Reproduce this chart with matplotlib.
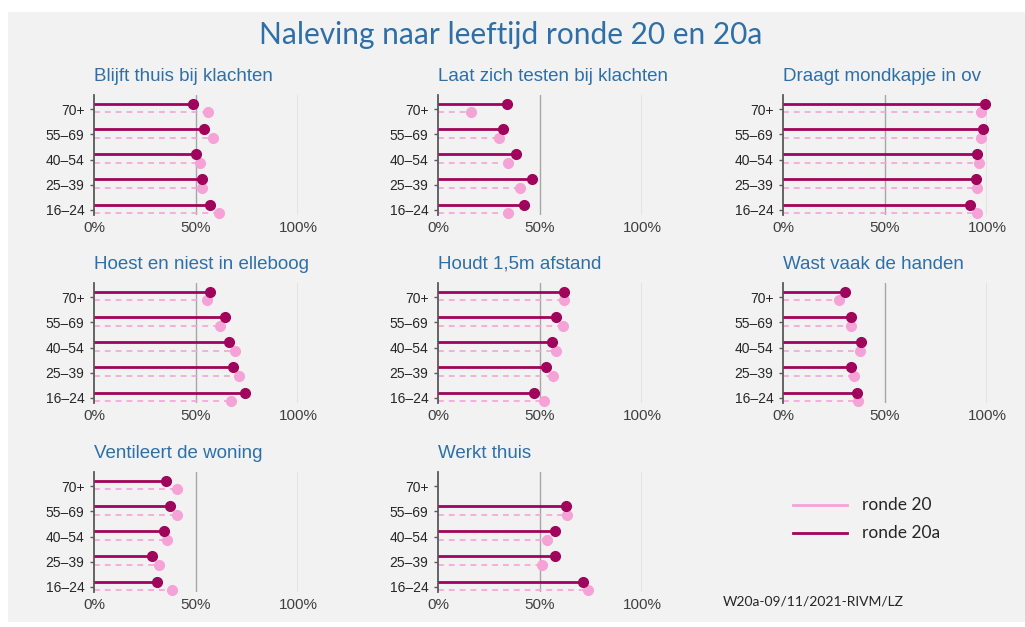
import matplotlib
matplotlib.use("Agg")
import matplotlib.pyplot as plt
from matplotlib.patches import Rectangle
import numpy as np

W, H = 1025, 627
DPI = 100

age_groups = ["70+", "55–69", "40–54", "25–39", "16–24"]
titles = ["Blijft thuis bij klachten", "Laat zich testen bij klachten", "Draagt mondkapje in ov",
          "Hoest en niest in elleboog", "Houdt 1,5m afstand", "Wast vaak de handen",
          "Ventileert de woning", "Werkt thuis"]

# ronde 20 (light) and ronde 20a (dark), percent, in order of age_groups
r20_thuis = [55.8, 58.1, 52.0, 53.0, 61.5]
r20a_thuis = [48.4, 53.7, 49.8, 53.0, 56.8]
r20_testen = [16.4, 29.7, 34.1, 40.2, 34.1]
r20a_testen = [33.6, 31.8, 38.2, 46.0, 42.3]
r20_mondkapje = [97.0, 97.0, 95.9, 94.9, 95.0]
r20a_mondkapje = [99.0, 98.0, 95.2, 94.4, 91.9]
r20_elleboog = [55.5, 61.9, 68.9, 71.2, 67.4]
r20a_elleboog = [56.8, 64.2, 66.1, 68.1, 74.0]
r20_afstand = [61.8, 61.1, 57.9, 56.4, 51.8]
r20a_afstand = [61.8, 58.0, 55.7, 53.1, 46.9]
r20_handen = [27.3, 33.2, 37.8, 35.0, 36.8]
r20a_handen = [30.4, 33.2, 38.0, 33.2, 36.5]
r20_ventileert = [40.6, 40.6, 35.7, 31.9, 38.1]
r20a_ventileert = [35.2, 37.3, 34.4, 28.2, 30.8]
r20_werkt = [np.nan, 63.3, 53.3, 51.1, 73.4]
r20a_werkt = [np.nan, 62.6, 57.2, 57.2, 71.1]

light_series = [r20_thuis, r20_testen, r20_mondkapje, r20_elleboog, r20_afstand,
                r20_handen, r20_ventileert, r20_werkt]
dark_series = [r20a_thuis, r20a_testen, r20a_mondkapje, r20a_elleboog, r20a_afstand,
               r20a_handen, r20a_ventileert, r20a_werkt]

xticks = [0, 50, 100]
xticklabels = ["0%", "50%", "100%"]
legend_labels = ["ronde 20", "ronde 20a"]

DARK = "#a0035c"
LIGHT = "#f5a3d6"
BLUE = "#2e6fa8"
BG = "#f2f2f2"

fig = plt.figure(figsize=(W / DPI, H / DPI), dpi=DPI)
fig.patch.set_facecolor("white")
fig.patches.append(Rectangle((8 / W, 5 / H), 1 - 8 / W, 1 - 12 / H - 5 / H,
                             transform=fig.transFigure, facecolor=BG, edgecolor="none", zorder=-10))

fig.text(511 / W, 1 - 35 / H, "Naleving naar leeftijd ronde 20 en 20a", ha="center", va="center",
         fontsize=21.5, color=BLUE, family="Lato")

col_x = [94, 438, 783]
row_top = [95, 283, 472]
ax_w = 204
ax_h = 120

y = np.arange(len(age_groups))
for i, title in enumerate(titles):
    r, c = divmod(i, 3)
    left = col_x[c]
    top = row_top[r]
    ax = fig.add_axes([left / W, 1 - (top + ax_h) / H, ax_w / W, ax_h / H])
    ax.set_facecolor("none")
    ax.set_xlim(0, 100)
    ax.set_ylim(4.2, -0.56)
    for s in ["top", "right", "bottom"]:
        ax.spines[s].set_visible(False)
    ax.spines["left"].set_color("#595959")
    ax.spines["left"].set_linewidth(1.3)
    for gx in [50, 100]:
        ax.axvline(gx, color="#a6a6a6", lw=1.0, zorder=0)
    light = np.array(light_series[i], dtype=float)
    dark = np.array(dark_series[i], dtype=float)
    yd = y - 0.21
    yl = y + 0.13
    ax.hlines(yl, 0, light, color=LIGHT, lw=1.2, linestyles=(0, (3.5, 3)), zorder=2)
    ax.plot(light, yl, "o", color=LIGHT, ms=7, zorder=3, clip_on=False)
    ax.hlines(yd, 0, dark, color=DARK, lw=2.0, zorder=4)
    ax.plot(dark, yd, "o", color=DARK, ms=7, zorder=5, clip_on=False)
    ax.set_yticks(y)
    ax.set_yticklabels(age_groups, fontsize=10, color="#262626", family="Liberation Sans")
    ax.tick_params(axis="y", length=3, width=1, color="#595959", pad=4)
    ax.set_xticks(xticks)
    ax.set_xticklabels(xticklabels, fontsize=11, color="#404040", family="Liberation Sans")
    ax.tick_params(axis="x", length=0, pad=4)
    ax.text(0, 1 + 10 / ax_h, title, transform=ax.transAxes, ha="left", va="bottom",
            fontsize=13.5, color=BLUE, family="Liberation Sans")

# legend
lax = fig.add_axes([0, 0, 1, 1])
lax.set_xlim(0, W)
lax.set_ylim(H, 0)
lax.axis("off")
lax.plot([793, 847], [505, 505], color=LIGHT, lw=2)
lax.plot([793, 847], [533, 533], color=DARK, lw=2)
lax.text(862, 505, legend_labels[0], va="center", ha="left", fontsize=12.5, color="#262626", family="Lato")
lax.text(862, 533, legend_labels[1], va="center", ha="left", fontsize=12.5, color="#262626", family="Lato")
lax.text(723, 601, "W20a-09/11/2021-RIVM/LZ", va="center", ha="left", fontsize=10, color="#262626", family="Lato")

fig.savefig("out.png", dpi=DPI, facecolor=fig.get_facecolor())
